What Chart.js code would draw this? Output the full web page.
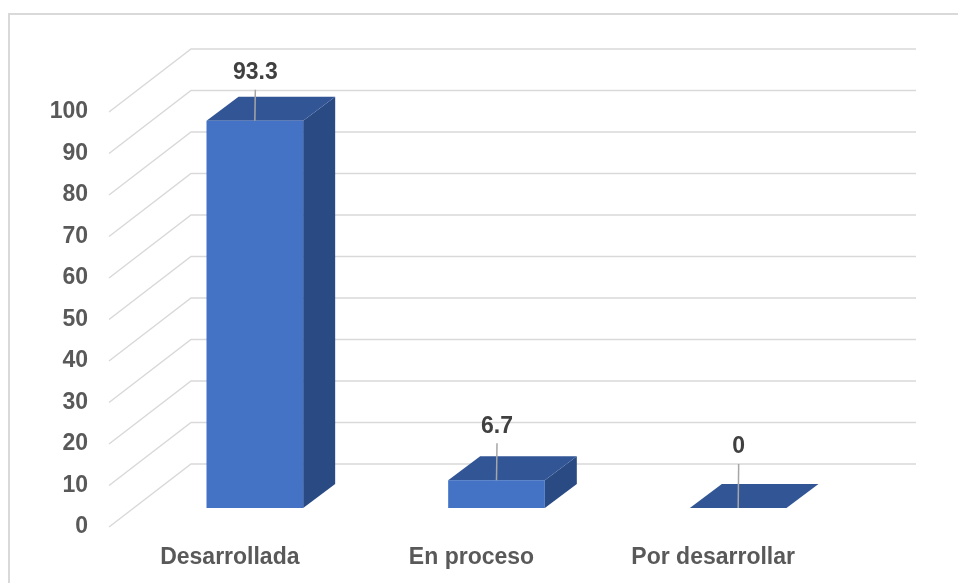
<!DOCTYPE html>
<html>
<head>
<meta charset="utf-8">
<script src="https://cdn.jsdelivr.net/npm/chart.js@4.4.1/dist/chart.umd.min.js"></script>
<style>
  html, body { margin: 0; padding: 0; background: #ffffff; }
  #wrap { width: 958px; height: 583px; position: relative; }
</style>
</head>
<body>
<div id="wrap"><canvas id="chart"></canvas></div>
<script>
// Chart data
const categories = ['Desarrollada', 'En proceso', 'Por desarrollar'];
const percentages = [93.3, 6.7, 0];
const yTickValues = [0, 10, 20, 30, 40, 50, 60, 70, 80, 90, 100];

// Pseudo-3D geometry (oblique projection offsets, in pixels)
const WALL = { dx: 82, dy: -63 };      // floor front edge -> back wall
const BAR_FRONT = { dx: 25, dy: -19 }; // floor front edge -> bar front face
const BAR_DEPTH = { dx: 32, dy: -24 }; // bar front face -> bar back face
const LABEL_LIFT = [48, 54, 61];       // value label height above the bar top

const COLORS = {
  front: '#4472C4',
  top: '#325596',
  side: '#2A4A84',
  grid: '#D9D9D9',
  frame: '#D9D9D9',
  axisText: '#595959',
  valueText: '#404040',
  leader: '#A6A6A6'
};
const FONT_FAMILY = "'Liberation Sans', Arial, sans-serif";
const FONT_SIZE = 23;

const threeD = {
  id: 'threeD',
  beforeDraw(chart) {
    const ctx = chart.ctx;
    const { left, right } = chart.chartArea;
    const y = chart.scales.y;
    ctx.save();
    // outer frame
    ctx.strokeStyle = COLORS.frame;
    ctx.lineWidth = 2;
    ctx.beginPath();
    ctx.moveTo(9, 583);
    ctx.lineTo(9, 14);
    ctx.lineTo(958, 14);
    ctx.stroke();
    // side wall diagonals and back wall gridlines
    ctx.strokeStyle = COLORS.grid;
    ctx.lineWidth = 1.5;
    y.ticks.forEach(t => {
      const py = y.getPixelForValue(t.value);
      ctx.beginPath();
      ctx.moveTo(left, py);
      ctx.lineTo(left + WALL.dx, py + WALL.dy);
      ctx.lineTo(right + WALL.dx, py + WALL.dy);
      ctx.stroke();
    });
    ctx.restore();
  },
  afterDatasetsDraw(chart) {
    const ctx = chart.ctx;
    const meta = chart.getDatasetMeta(0);
    const values = chart.data.datasets[0].data;
    ctx.save();
    meta.data.forEach((el, i) => {
      const p = el.getProps(['x', 'y', 'base', 'width'], true);
      const L = p.x - p.width / 2 + BAR_FRONT.dx;
      const R = p.x + p.width / 2 + BAR_FRONT.dx;
      const T = p.y + BAR_FRONT.dy;
      const B = p.base + BAR_FRONT.dy;
      const dx = BAR_DEPTH.dx, dy = BAR_DEPTH.dy;
      // side face
      ctx.fillStyle = COLORS.side;
      ctx.beginPath();
      ctx.moveTo(R, T); ctx.lineTo(R + dx, T + dy);
      ctx.lineTo(R + dx, B + dy); ctx.lineTo(R, B);
      ctx.closePath(); ctx.fill();
      // top face
      ctx.fillStyle = COLORS.top;
      ctx.beginPath();
      ctx.moveTo(L, T); ctx.lineTo(L + dx, T + dy);
      ctx.lineTo(R + dx, T + dy); ctx.lineTo(R, T);
      ctx.closePath(); ctx.fill();
      // front face
      ctx.fillStyle = COLORS.front;
      ctx.fillRect(L, T, R - L, B - T);

      // value label with leader line
      const cx = (L + R) / 2;
      const ly = T - LABEL_LIFT[i];
      ctx.strokeStyle = COLORS.leader;
      ctx.lineWidth = 1.5;
      ctx.beginPath();
      ctx.moveTo(cx + 0.5, ly + 17);
      ctx.lineTo(cx, T);
      ctx.stroke();
      ctx.fillStyle = COLORS.valueText;
      ctx.font = 'bold ' + FONT_SIZE + 'px ' + FONT_FAMILY;
      ctx.textAlign = 'center';
      ctx.textBaseline = 'middle';
      ctx.fillText(String(values[i]), cx + 0.5, ly);
    });
    ctx.restore();
  }
};

new Chart(document.getElementById('chart'), {
  type: 'bar',
  data: {
    labels: categories,
    datasets: [{
      data: percentages,
      backgroundColor: 'rgba(0,0,0,0)',
      borderWidth: 0,
      barPercentage: 0.4,
      categoryPercentage: 1.0
    }]
  },
  options: {
    responsive: true,
    maintainAspectRatio: false,
    animation: false,
    devicePixelRatio: 1,
    layout: { padding: { left: 9, right: 124, top: 112, bottom: 0 } },
    plugins: { legend: { display: false }, tooltip: { enabled: false } },
    scales: {
      x: {
        grid: { display: false, drawTicks: false },
        border: { display: false },
        ticks: {
          color: COLORS.axisText,
          font: { family: FONT_FAMILY, size: FONT_SIZE, weight: 'bold' },
          padding: 17,
          maxRotation: 0
        },
        afterFit(scale) { scale.height = 56; }
      },
      y: {
        min: 0,
        max: 100,
        grid: { display: false, drawTicks: false },
        border: { display: false },
        afterBuildTicks(scale) { scale.ticks = yTickValues.map(v => ({ value: v })); },
        ticks: {
          color: COLORS.axisText,
          font: { family: FONT_FAMILY, size: FONT_SIZE, weight: 'bold' },
          padding: 21
        },
        afterFit(scale) { scale.width = 100; }
      }
    }
  },
  plugins: [threeD]
});
</script>
</body>
</html>
